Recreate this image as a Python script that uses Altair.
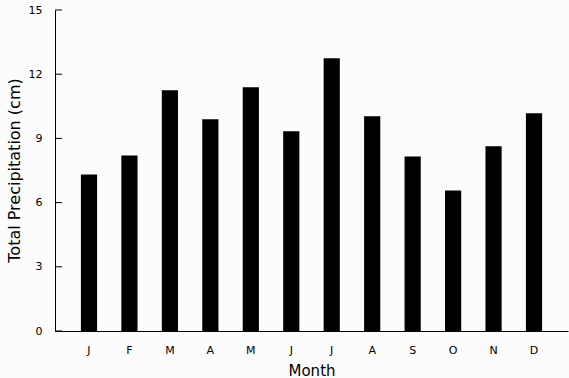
import altair as alt
import pandas as pd

months = ["J", "F", "M", "A", "M ", "J ", "J  ", "A ", "S", "O", "N", "D"]
precip = [7.31, 8.20, 11.25, 9.89, 11.39, 9.33, 12.75, 10.03, 8.16, 6.56, 8.63, 10.17]
y_ticks = [0, 3, 6, 9, 12, 15]

df = pd.DataFrame({"month": months, "precip": precip})
ticks_df = pd.DataFrame({"v": y_ticks})

FONT = "DejaVu Sans"

bars = alt.Chart(df).mark_bar(color="#000000").encode(
    x=alt.X(
        "month:N",
        sort=months,
        scale=alt.Scale(paddingInner=0.6, paddingOuter=0.64),
        axis=alt.Axis(
            title="Month",
            labelAngle=0,
            ticks=False,
            domainColor="#000000",
            domainWidth=1,
            labelFont=FONT,
            labelFontSize=11,
            labelColor="#000000",
            labelPadding=13,
            titleFont=FONT,
            titleFontSize=15,
            titleFontWeight="normal",
            titleColor="#000000",
            titleBaseline="alphabetic",
            titleY=44,
        ),
    ),
    y=alt.Y(
        "precip:Q",
        scale=alt.Scale(domain=[0, 15], nice=False),
        axis=alt.Axis(
            title="Total Precipitation (cm)",
            values=y_ticks,
            ticks=False,
            grid=False,
            domainColor="#000000",
            domainWidth=1,
            labelFont=FONT,
            labelFontSize=11,
            labelColor="#000000",
            labelPadding=13,
            titleFont=FONT,
            titleFontSize=16,
            titleFontWeight="normal",
            titleColor="#000000",
            titleBaseline="alphabetic",
            titleX=-36,
            titleY=160,
        ),
    ),
)

tick_marks = alt.Chart(ticks_df).mark_rule(color="#000000", strokeWidth=1).encode(
    y=alt.Y("v:Q"),
    x=alt.value(0),
    x2=alt.value(7),
)

chart = alt.layer(bars, tick_marks).properties(
    width=513,
    height=321,
    padding={"left": 55, "top": 10, "right": 1, "bottom": 47},
    autosize=alt.AutoSizeParams(type="none"),
    background="#fcfcfc",
).configure_view(stroke=None).configure_axis(grid=False)

chart.save("out.html", embed_options={"renderer": "svg", "actions": False})
